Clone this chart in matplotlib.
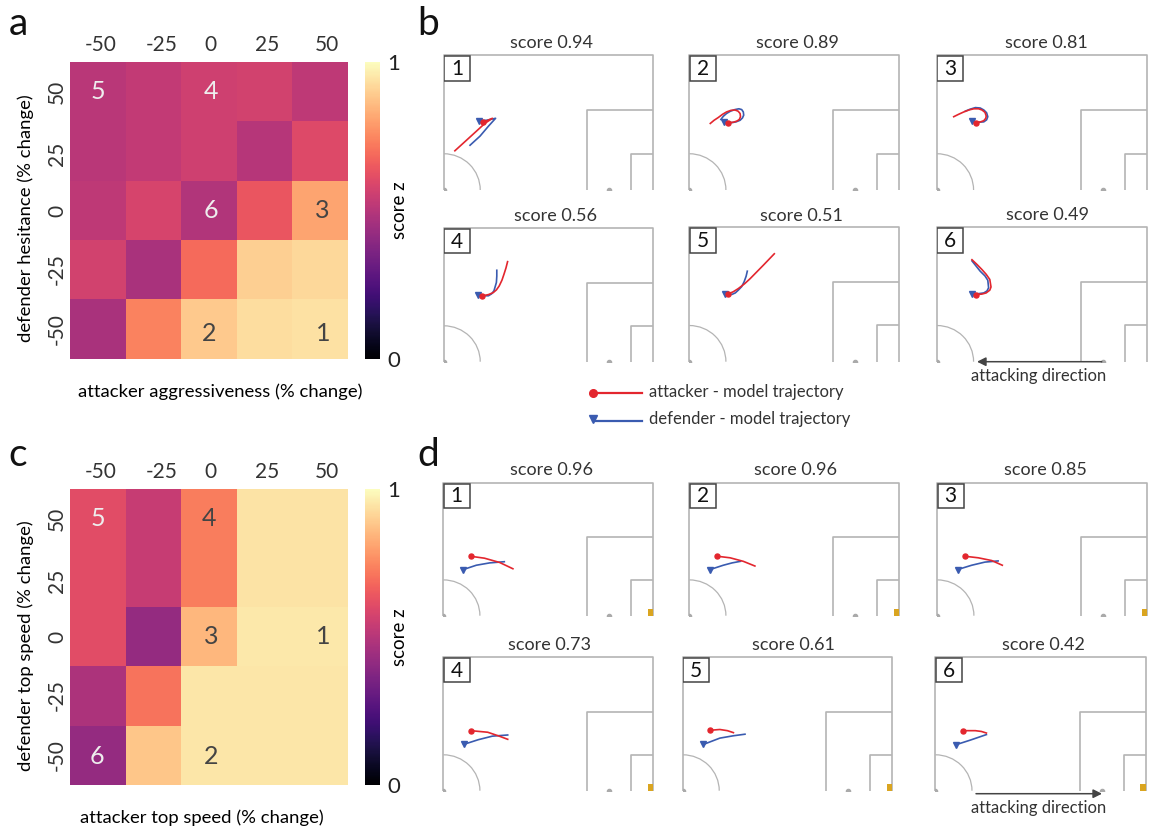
import matplotlib
matplotlib.use('Agg')
import matplotlib.pyplot as plt
from matplotlib.patches import Arc, Rectangle
import numpy as np

plt.rcParams['font.family'] = ['Lato', 'DejaVu Sans']
plt.rcParams['font.size'] = 13
plt.rcParams['text.color'] = '#333333'

W, H = 1157, 831
RED = '#e3262e'
BLUE = '#3a5bb0'
GREY = '#b4b4b4'

# heatmap data
change_labels = ['-50', '-25', '0', '25', '50']
row_labels = ['50', '25', '0', '-25', '-50']
z_a = [[.51, .53, .56, .57, .52],
       [.51, .53, .56, .50, .60],
       [.52, .58, .49, .64, .81],
       [.57, .47, .69, .90, .92],
       [.47, .74, .89, .93, .94]]
z_c = [[.61, .54, .73, .945, .945],
       [.61, .54, .73, .945, .945],
       [.61, .42, .85, .955, .955],
       [.48, .71, .95, .95, .95],
       [.42, .88, .95, .95, .95]]
# rank labels on the heatmaps: (row position, column position, rank)
ranks_a = [(0.49, 0.5, '5'), (0.49, 2.54, '4'), (2.5, 2.54, '6'), (2.5, 4.53, '3'), (4.57, 2.5, '2'), (4.57, 4.55, '1')]
ranks_c = [(0.5, 0.5, '5'), (0.5, 2.5, '4'), (2.5, 2.54, '3'), (2.5, 4.55, '1'), (4.52, 2.54, '2'), (4.52, 0.48, '6')]

# trajectories in metres
b_scores = ['0.94', '0.89', '0.81', '0.56', '0.51', '0.49']
b_att_x = [[2.8, 5.75, 8.25, 10.3, 12.2, 9.9],
           [5.25, 6.2, 7.25, 8.3, 9.3, 10.4, 11.4, 12.2, 12.7, 12.8, 12.5, 11.9, 11.0, 9.6],
           [4.2, 5.4, 6.7, 8.0, 9.2, 10.4, 11.25, 12.0, 12.3, 12.2, 11.7, 10.9, 9.8],
           [16.0, 15.6, 15.1, 14.6, 13.9, 13.2, 12.4, 11.2, 9.7],
           [21.25, 18.5, 15.2, 13.8, 12.25, 11.0, 9.6],
           [8.75, 10.0, 11.25, 12.3, 13.2, 13.5, 13.2, 12.3, 11.2, 9.8]]
b_att_y = [[9.9, 12.6, 14.9, 16.8, 18.1, 17.1],
           [16.8, 17.6, 18.3, 19.1, 19.7, 20.1, 20.2, 19.9, 19.3, 18.5, 17.8, 17.4, 17.1, 17.0],
           [18.5, 19.1, 19.7, 20.2, 20.5, 20.5, 20.2, 19.6, 18.7, 18.1, 17.5, 17.2, 17.0],
           [25.5, 23.9, 22.3, 20.8, 19.3, 18.3, 17.6, 17.1, 16.8],
           [27.3, 24.4, 21.0, 19.7, 18.5, 17.7, 17.1],
           [25.8, 24.6, 23.3, 22.1, 20.8, 18.9, 18.1, 17.4, 17.1, 17.0]]
b_def_x = [[6.6, 9.1, 11.2, 13.0, 10.75, 8.8],
           [7.9, 8.5, 9.3, 10.3, 11.4, 12.4, 13.1, 13.5, 13.6, 13.3, 12.7, 11.7, 10.6, 8.75],
           [7.1, 8.3, 9.6, 10.8, 11.7, 12.4, 12.7, 12.4, 11.7, 10.3, 8.8],
           [13.3, 13.3, 13.2, 12.6, 12.0, 11.2, 10.0, 8.7],
           [14.5, 14.2, 13.7, 13.1, 12.25, 11.5, 10.6, 8.9],
           [8.75, 10.8, 12.0, 12.7, 12.9, 12.5, 11.7, 10.3, 8.8]]
b_def_y = [[11.3, 13.6, 16.1, 18.1, 17.6, 17.5],
           [17.8, 18.6, 19.3, 19.9, 20.3, 20.5, 20.3, 19.7, 18.9, 18.2, 17.6, 17.2, 17.0, 17.1],
           [19.9, 20.4, 20.8, 20.7, 20.2, 19.5, 18.5, 17.7, 17.2, 17.1, 17.4],
           [23.3, 21.8, 20.2, 18.1, 17.3, 16.8, 16.8, 17.1],
           [22.9, 21.6, 20.2, 19.0, 18.1, 17.4, 17.0, 17.2],
           [25.5, 22.9, 21.7, 20.6, 18.7, 17.9, 17.4, 17.2, 17.2]]

d_scores = ['0.96', '0.96', '0.85', '0.73', '0.61', '0.42']
d_att_x = [[6.8, 10.3, 14.1, 17.4],
           [7.0, 10.2, 13.5, 16.4],
           [6.9, 10.25, 13.6, 16.25],
           [6.9, 11.1, 14.0, 16.1],
           [6.9, 9.3, 11.2, 12.7],
           [6.9, 10.0, 11.5, 12.75]]
d_att_y = [[15.2, 14.7, 13.6, 12.0],
           [15.2, 14.8, 13.9, 12.7],
           [15.2, 14.8, 14.1, 12.9],
           [15.3, 14.9, 13.9, 13.1],
           [15.4, 15.6, 15.3, 14.8],
           [15.3, 15.3, 15.1, 14.7]]
d_def_x = [[5.0, 8.25, 11.6, 15.25],
           [5.2, 8.5, 10.7, 12.8],
           [5.1, 8.6, 11.9, 15.2],
           [5.1, 8.75, 12.25, 16.1],
           [5.2, 9.3, 12.7, 15.6],
           [5.1, 8.75, 12.75]]
d_def_y = [[11.8, 12.9, 13.5, 13.8],
           [11.8, 12.9, 13.5, 13.9],
           [11.8, 12.9, 13.7, 14.0],
           [11.8, 13.0, 13.9, 14.2],
           [11.8, 13.4, 14.0, 14.4],
           [11.7, 12.9, 14.3]]


def px_axes(left, top, right, bottom, **kw):
    return fig.add_axes([left / W, 1 - bottom / H, (right - left) / W, (bottom - top) / H], **kw)


def heatmap(box, cbar_box, z, ranks, xlabel, ylabel, xlabel_x, ylabel_y):
    ax = px_axes(*box)
    im = ax.imshow(z, cmap='magma', vmin=0, vmax=1, aspect='auto', extent=(0, 5, 5, 0), interpolation='nearest')
    ax.xaxis.tick_top()
    ax.set_xticks([0.56, 1.65, 2.52, 3.54, 4.62], change_labels)
    ax.set_yticks([0.5, 1.55, 2.5, 3.48, 4.5], row_labels, rotation=90, va='center')
    ax.tick_params(length=0, labelsize=15, labelcolor='#333333')
    ax.tick_params(axis='x', pad=5)
    ax.tick_params(axis='y', pad=2)
    for s in ax.spines.values():
        s.set_visible(False)
    ax.set_xlabel(xlabel, fontsize=13.3)
    ax.set_ylabel(ylabel, fontsize=13.3)
    ax.xaxis.set_label_coords(xlabel_x, -0.082)
    ax.yaxis.set_label_coords(-0.13, ylabel_y)
    for r, c, t in ranks:
        col = '#eeeeee' if z[int(r)][int(c)] < 0.65 else '#444444'
        ax.text(c, r, t, color=col, fontsize=18, ha='center', va='center')

    cax = px_axes(*cbar_box)
    cb = fig.colorbar(im, cax=cax, ticks=[0, 1])
    cb.outline.set_visible(False)
    cb.ax.tick_params(length=0, pad=5, labelsize=16, labelcolor='#222222')
    cb.set_label('score z', fontsize=13.5, labelpad=-6)


def pitch(box, rank, att_x, att_y, def_x, def_y, marker_at, gold=False):
    ax = px_axes(*box)
    ax.set_xlim(0, 52.5)
    ax.set_ylim(0, 34)
    ax.axis('off')
    # half pitch outline and boxes
    ax.plot([0, 0, 52.5, 52.5], [0, 34, 34, 0], color=GREY, lw=1.2, clip_on=False, solid_capstyle='butt')
    ax.plot([36, 36, 52.5], [0, 20.16, 20.16], color=GREY, lw=1.2)
    ax.plot([47, 47, 52.5], [0, 9.16, 9.16], color=GREY, lw=1.2)
    ax.add_patch(Arc((0, 0), 18.3, 18.3, theta1=0, theta2=90, color=GREY, lw=0.9))
    ax.plot([0, 41.5], [0, 0], ls='none', marker='o', ms=3, color='#aaaaaa')
    if gold:
        ax.add_patch(Rectangle((51.1, 0), 1.5, 1.6, color='#daa520', lw=0, zorder=3))
    ax.plot(att_x, att_y, color=RED, lw=1.2, zorder=4)
    ax.plot(def_x, def_y, color=BLUE, lw=1.2, zorder=3)
    ax.plot(att_x[marker_at], att_y[marker_at], 'o', color=RED, ms=3.6, zorder=5)
    ax.plot(def_x[marker_at], def_y[marker_at], 'v', color=BLUE, ms=4.5, zorder=3)
    ax.add_patch(Rectangle((0.1, 27.6), 6.5, 6.15, fc='white', ec='#444444', lw=1.1, zorder=6))
    ax.text(3.35, 30.6, rank, fontsize=15, color='#111111', ha='center', va='center', zorder=7)


fig = plt.figure(figsize=(W / 100, H / 100), dpi=100)

heatmap((70, 62, 348, 359), (365, 62, 380, 359), z_a, ranks_a,
        'attacker aggressiveness (% change)', 'defender hesitance (% change)', 0.54, 0.475)
heatmap((70, 489, 348, 785), (365, 489, 380, 785), z_c, ranks_c,
        'attacker top speed (% change)', 'defender top speed (% change)', 0.475, 0.47)

# pixel boxes of the pitches, with the centre of each title
b_boxes = [(443.7, 55.3, 653.3, 190), (689.3, 55.3, 899.3, 190), (936.9, 55.3, 1147.3, 190),
           (443.7, 228.3, 653.3, 361.7), (689.3, 227.3, 899.3, 361.7), (936.9, 227.3, 1147.3, 361.7)]
b_titles = [(552, 43), (797, 43), (1046, 43), (555, 216), (801, 216), (1048, 215)]
d_boxes = [(443.3, 482.7, 653.3, 615.7), (689.3, 482.7, 899.3, 615.7), (937.3, 482.7, 1147.3, 615.7),
           (443.3, 657.3, 653.3, 790.7), (682.7, 657.3, 892.3, 790.7), (935.3, 657.3, 1145.7, 790.7)]
d_titles = [(551, 470), (795, 470), (1045, 470), (549, 645), (793, 645), (1043, 645)]

for i in range(6):
    pitch(b_boxes[i], str(i + 1), b_att_x[i], b_att_y[i], b_def_x[i], b_def_y[i], -1)
    pitch(d_boxes[i], str(i + 1), d_att_x[i], d_att_y[i], d_def_x[i], d_def_y[i], 0, gold=True)

# overlay in pixel coordinates for the free text, legend and arrows
over = fig.add_axes([0, 0, 1, 1], zorder=10)
over.set_xlim(0, W)
over.set_ylim(H, 0)
over.axis('off')

for (x, y), s in zip(b_titles + d_titles, b_scores + d_scores):
    over.text(x, y, 'score ' + s, fontsize=13, ha='center', va='center')
for x, y, t in [(18, 24, 'a'), (428, 24, 'b'), (18, 455, 'c'), (428, 455, 'd')]:
    over.text(x, y, t, fontsize=28, color='#111111', ha='center', va='center')

over.plot([593, 642], [393, 393], color=RED, lw=1.6)
over.plot(593, 393, 'o', color=RED, ms=5.5)
over.plot([593, 642], [420.5, 420.5], color=BLUE, lw=1.6)
over.plot(593, 419, 'v', color=BLUE, ms=5.5)
over.text(649, 392, 'attacker - model trajectory', fontsize=12, va='center')
over.text(649, 419, 'defender - model trajectory', fontsize=12, va='center')

for start, tip, y, ty in [(1101.7, 977, 361.7, 375.7), (976, 1102, 793.7, 807.7)]:
    over.annotate('', xy=(tip, y), xytext=(start, y),
                  arrowprops=dict(arrowstyle='-|>', color='#444444', lw=1.1, shrinkA=0, shrinkB=0))
    over.text(1039, ty, 'attacking direction', fontsize=11.9, ha='center', va='center')

fig.savefig('out.png', dpi=100)
